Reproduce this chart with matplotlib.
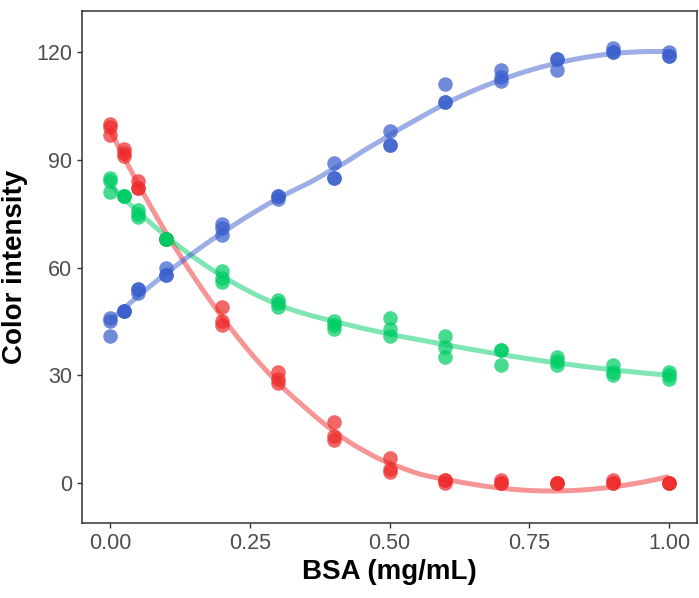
import numpy as np
from matplotlib import pyplot as plt

plt.rcParams['font.family'] = ['Liberation Sans', 'DejaVu Sans']

# BSA concentrations (triplicates)
bsa = [0, 0.025, 0.05, 0.1, 0.2, 0.3, 0.4, 0.5, 0.6, 0.7, 0.8, 0.9, 1.0]

red = [[100, 99, 97], [93, 92, 91], [84, 82, 82], [68, 68, 68], [49, 45, 44],
       [31, 29, 28], [17, 13, 12], [7, 4, 3], [1, 0, 1], [1, 0, 0],
       [0, 0, 0], [1, 0, 0], [0, 0, 0]]
green = [[85, 84, 81], [80, 80, 80], [76, 75, 74], [68, 68, 68], [59, 57, 56],
         [51, 50, 49], [45, 44, 43], [46, 43, 41], [41, 38, 35], [37, 37, 33],
         [35, 34, 33], [33, 31, 30], [31, 30, 29]]
blue = [[46, 45, 41], [48, 48, 48], [54, 54, 53], [60, 58, 58], [72, 71, 69],
        [80, 80, 79], [89, 85, 85], [98, 94, 94], [111, 106, 106], [115, 113, 112],
        [118, 118, 115], [121, 120, 120], [120, 119, 119]]

colors = {"red": "#EE2C2C", "green": "#00CD66", "blue": "#3A5FCD"}


def loess(x, y, xnew, span=0.75):
    n = len(x)
    q = int(np.floor(n * span))
    out = []
    for x0 in xnew:
        d = np.abs(x - x0)
        h = np.sort(d)[q - 1]
        w = np.clip(1 - (d / h) ** 3, 0, None) ** 3
        A = np.vstack([np.ones(n), x - x0, (x - x0) ** 2]).T
        W = np.sqrt(w)
        coef = np.linalg.lstsq(A * W[:, None], y * W, rcond=None)[0]
        out.append(coef[0])
    return np.array(out)


fig = plt.figure(figsize=(6.99, 5.98), dpi=100)
ax = fig.add_axes([82 / 699, 1 - 523 / 598, (697 - 82) / 699, (523 - 11) / 598])

xs = np.linspace(0, 1, 80)
series = [("red", red), ("green", green), ("blue", blue)]
for name, vals in series:
    x = np.repeat(bsa, 3).astype(float)
    y = np.array(vals, dtype=float).ravel()
    ax.plot(xs, loess(x, y, xs), color=colors[name], alpha=0.5, lw=3.6,
            solid_capstyle='butt', zorder=2)
for name, vals in series:
    x = np.repeat(bsa, 3).astype(float)
    y = np.array(vals, dtype=float).ravel()
    ax.scatter(x, y, s=110, color=colors[name], alpha=0.72, linewidths=0, zorder=3)

ax.set_xlim(-0.05, 1.05)
ax.set_ylim(-11.1, 131.4)
ax.set_xticks([0, 0.25, 0.5, 0.75, 1.0])
ax.set_xticklabels(["0.00", "0.25", "0.50", "0.75", "1.00"])
ax.set_yticks([0, 30, 60, 90, 120])
ax.tick_params(colors="#333333", labelcolor="#4D4D4D", labelsize=15.5, length=3.5, width=1)
for sp in ax.spines.values():
    sp.set_color("#333333")
    sp.set_linewidth(1.1)

ax.set_xlabel("BSA (mg/mL)", fontsize=20, fontweight="bold", labelpad=4)
ax.set_ylabel("Color intensity", fontsize=20, fontweight="bold", labelpad=6)

plt.savefig("out.png", dpi=100)
